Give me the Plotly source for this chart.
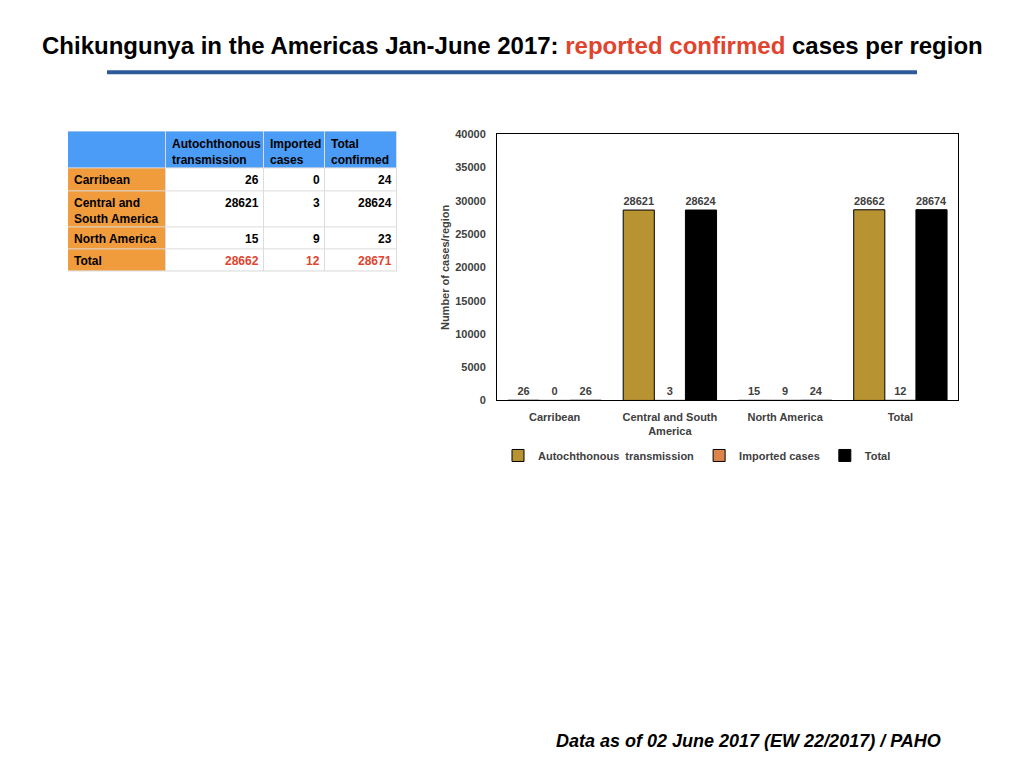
import plotly.graph_objects as go

W, H = 1024, 768

# chart data
regions = ["Carribean", "Central and South<br>America", "North America", "Total"]
autochthonous = [26, 28621, 15, 28662]
imported = [0, 3, 9, 12]
total = [26, 28624, 24, 28674]

# table data
table_header = ["", "Autochthonous<br>transmission", "Imported<br>cases", "Total<br>confirmed"]
table_rows = ["Carribean", "Central and<br>South America", "North America", "Total"]
table_auto = [26, 28621, 15, 28662]
table_imported = [0, 3, 9, 12]
table_total = [24, 28624, 23, 28671]

# table geometry in pixels
col_w = [98, 98, 61, 72]
row_h = [37, 23, 36, 22, 22]

gray = "#404040"
red = "#e0442e"
font = "Liberation Sans"


def px(x):
    return x / W


def py(y):
    # page comes out a little squashed vertically, correct for it
    return 1 - ((y - 5.7) / 0.984) / H


def bold(size, color=gray):
    return dict(family=font, size=size, color=color, weight="bold")


fig = go.Figure()

series = [
    ("Autochthonous  transmission", autochthonous, "#b89332"),
    ("Imported cases", imported, "#dd8448"),
    ("Total", total, "#000000"),
]
for name, vals, col in series:
    fig.add_trace(go.Bar(
        x=regions, y=vals, name=name,
        marker=dict(color=col, line=dict(color="black", width=1)),
        text=[str(v) for v in vals], textposition="outside",
        textfont=bold(11),
        cliponaxis=False, hoverinfo="skip",
    ))

# table drawn as a heatmap of cell colours + annotations
x_edges = [0]
for w in col_w:
    x_edges.append(x_edges[-1] + w)
y_edges = [0]
for h in row_h:
    y_edges.append(y_edges[-1] + h)

z = [[2, 2, 2, 2]] + [[1, 0, 0, 0] for _ in table_rows]
fig.add_trace(go.Heatmap(
    x=x_edges, y=y_edges, z=z, xaxis="x2", yaxis="y2",
    zmin=0, zmax=2, showscale=False, xgap=1, ygap=1,
    colorscale=[[0, "white"], [0.5, "#f19c3c"], [1, "#4a9cf6"]],
    hoverinfo="skip", showlegend=False,
))

ann = []
for j in range(1, 4):
    ann.append(dict(text="<b>%s</b>" % table_header[j], x=x_edges[j] + 4, y=y_edges[0] + 4,
                    xanchor="left", yanchor="top", align="left"))
columns = [table_auto, table_imported, table_total]
for i, r in enumerate(table_rows):
    top = y_edges[i + 1] + 3
    ann.append(dict(text="<b>%s</b>" % r, x=4, y=top, xanchor="left", yanchor="top", align="left"))
    for j, col in enumerate(columns):
        color = red if r == "Total" else "black"
        ann.append(dict(text="<b>%d</b>" % col[i], x=x_edges[j + 2] - 3, y=top,
                        xanchor="right", yanchor="top", font=dict(family=font, size=12, color=color)))
for a in ann:
    a.update(xref="x2", yref="y2", showarrow=False)
    a.setdefault("font", dict(family=font, size=12, color="black"))

ann += [
    dict(text="<b>Chikungunya in the Americas Jan-June 2017: "
              "<span style='color:%s'>reported confirmed</span> cases per region</b>" % red,
         x=px(512), y=py(45), xref="paper", yref="paper", showarrow=False,
         xanchor="center", yanchor="middle",
         font=dict(family=font, size=24, color="black")),
    dict(text="<b><i>Data as of 02 June 2017 (EW 22/2017) / PAHO</i></b>",
         x=px(748), y=py(740), xref="paper", yref="paper", showarrow=False,
         xanchor="center", yanchor="middle",
         font=dict(family=font, size=18, color="black")),
]

fig.update_layout(
    width=W, height=H,
    margin=dict(l=0, r=0, t=0, b=0),
    paper_bgcolor="white", plot_bgcolor="white",
    barmode="group", bargap=0.19, bargroupgap=0,
    font=dict(family=font, color=gray),
    showlegend=True,
    legend=dict(orientation="h", x=px(697), y=py(455), xanchor="center", yanchor="middle",
                font=bold(11), itemwidth=30, bgcolor="rgba(0,0,0,0)"),
    xaxis=dict(domain=[px(497), px(958)], showline=True, linecolor="black", linewidth=1,
               mirror=True, tickfont=bold(11), ticks="", ticklabelstandoff=6,
               fixedrange=True),
    yaxis=dict(domain=[py(400), py(134)], range=[0, 40000], dtick=5000,
               showline=True, linecolor="black", linewidth=1, mirror=True,
               showgrid=False, zeroline=False, tickfont=bold(11), tickformat="d",
               ticklabelstandoff=8, fixedrange=True,
               title=dict(text="Number of cases/region", font=bold(11), standoff=3)),
    xaxis2=dict(domain=[px(68), px(397)], range=[0, x_edges[-1]], visible=False,
                anchor="y2", fixedrange=True),
    yaxis2=dict(domain=[py(131 + y_edges[-1]), py(131)], range=[y_edges[-1], 0],
                visible=False, anchor="x2", fixedrange=True),
    annotations=ann,
    shapes=[
        dict(type="line", xref="paper", yref="paper", x0=px(107), x1=px(917),
             y0=py(72), y1=py(72), line=dict(color="#2d5b99", width=4)),
        # grid colour showing through the heatmap gaps
        dict(type="rect", xref="x2 domain", yref="y2 domain", x0=0, x1=1, y0=0, y1=1,
             fillcolor="#dcdcdc", line=dict(width=0), layer="below"),
    ],
)

fig.write_html("out.html", config={"displayModeBar": False},
               post_script="document.body.style.margin='0px';")
